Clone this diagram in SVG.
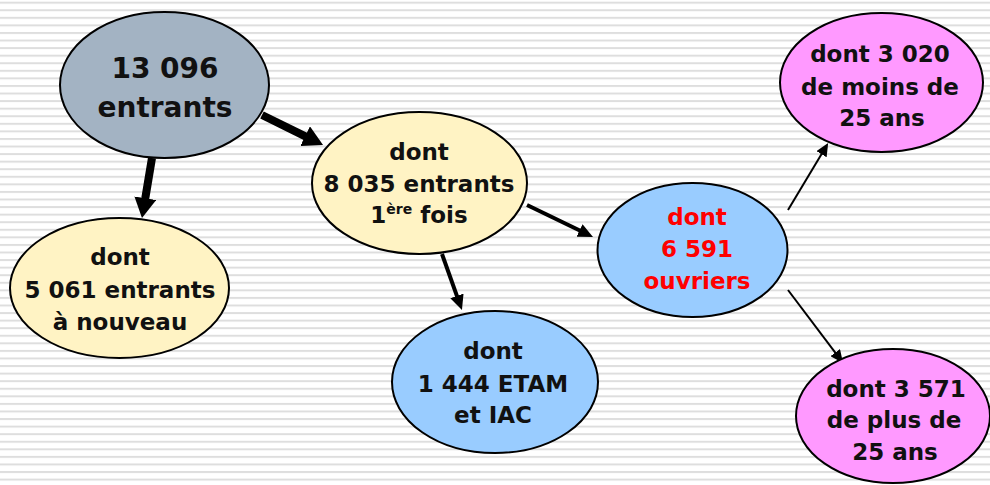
<svg xmlns="http://www.w3.org/2000/svg" width="990" height="485" viewBox="0 0 990 485">
<defs>
<pattern id="stripes" x="0" y="1.7" width="20" height="7.57" patternUnits="userSpaceOnUse">
<rect x="0" y="0" width="20" height="2" fill="#dedede"/>
</pattern>
<marker id="headL" markerUnits="userSpaceOnUse" markerWidth="20" markerHeight="22" refX="2" refY="11" orient="auto">
<path d="M0,0 L20,11 L0,22 z" fill="#000"/>
</marker>
<marker id="headM" markerUnits="userSpaceOnUse" markerWidth="15" markerHeight="14" refX="2" refY="7" orient="auto">
<path d="M0,0 L15,7 L0,14 z" fill="#000"/>
</marker>
<marker id="headS" markerUnits="userSpaceOnUse" markerWidth="13" markerHeight="12" refX="2" refY="6" orient="auto">
<path d="M0,0 L13,6 L0,12 z" fill="#000"/>
</marker>
</defs>
<style>
.node ellipse { stroke: #000; stroke-width: 2; }
.lbl { font-family: "DejaVu Sans", "Liberation Sans", sans-serif; font-weight: bold; font-size: 23px; fill: #111; text-anchor: middle; }
.big { font-size: 28px; }
.red { fill: #ff0000; }
.conn line { stroke: #000; fill: none; }
</style>
<rect width="990" height="485" fill="#ffffff"/>
<rect width="990" height="485" fill="url(#stripes)"/>

<g id="connectors" class="conn">
<line x1="152" y1="158" x2="144.95" y2="200.25" stroke-width="8" marker-end="url(#headL)"/>
<line x1="262" y1="115" x2="306.9" y2="137.1" stroke-width="8" marker-end="url(#headL)"/>
<line x1="527" y1="205" x2="581.3" y2="231.3" stroke-width="4" marker-end="url(#headM)"/>
<line x1="442" y1="254" x2="457.6" y2="297.8" stroke-width="4" marker-end="url(#headM)"/>
<line x1="788" y1="210" x2="822.5" y2="152.5" stroke-width="2" marker-end="url(#headS)"/>
<line x1="788" y1="290" x2="836.4" y2="354.2" stroke-width="2" marker-end="url(#headS)"/>
</g>

<g id="n-entrants" class="node">
<ellipse cx="164.5" cy="85" rx="104.5" ry="73" fill="#a3b3c3"/>
<text class="lbl big" x="165" y="78">13 096</text>
<text class="lbl big" x="165" y="117">entrants</text>
</g>

<g id="n-premiere" class="node">
<ellipse cx="419.5" cy="183" rx="107.5" ry="71" fill="#fff3c4"/>
<text class="lbl" x="419" y="160">dont</text>
<text class="lbl" x="419" y="192">8 035 entrants</text>
<text class="lbl" x="419" y="223">1<tspan font-size="14" dy="-9">ère</tspan><tspan dy="9"> fois</tspan></text>
</g>

<g id="n-nouveau" class="node">
<ellipse cx="119.5" cy="288" rx="109.5" ry="70" fill="#fff3c4"/>
<text class="lbl" x="120" y="265">dont</text>
<text class="lbl" x="120" y="298">5 061 entrants</text>
<text class="lbl" x="120" y="330">à nouveau</text>
</g>

<g id="n-etam" class="node">
<ellipse cx="495" cy="382" rx="103" ry="71" fill="#99ccff"/>
<text class="lbl" x="493" y="359">dont</text>
<text class="lbl" x="493" y="392">1 444 ETAM</text>
<text class="lbl" x="493" y="423">et IAC</text>
</g>

<g id="n-ouvriers" class="node">
<ellipse cx="692.5" cy="250" rx="95" ry="67" fill="#99ccff"/>
<text class="lbl red" x="697" y="225">dont</text>
<text class="lbl red" x="697" y="257">6 591</text>
<text class="lbl red" x="697" y="289">ouvriers</text>
</g>

<g id="n-moins25" class="node">
<ellipse cx="881.5" cy="82.5" rx="101.5" ry="69.5" fill="#ff99ff"/>
<text class="lbl" x="880" y="62">dont 3 020</text>
<text class="lbl" x="880" y="95">de moins de</text>
<text class="lbl" x="882" y="126">25 ans</text>
</g>

<g id="n-plus25" class="node">
<ellipse cx="893" cy="416" rx="97" ry="67" fill="#ff99ff"/>
<text class="lbl" x="896" y="397">dont 3 571</text>
<text class="lbl" x="894" y="428">de plus de</text>
<text class="lbl" x="895" y="460">25 ans</text>
</g>
</svg>
